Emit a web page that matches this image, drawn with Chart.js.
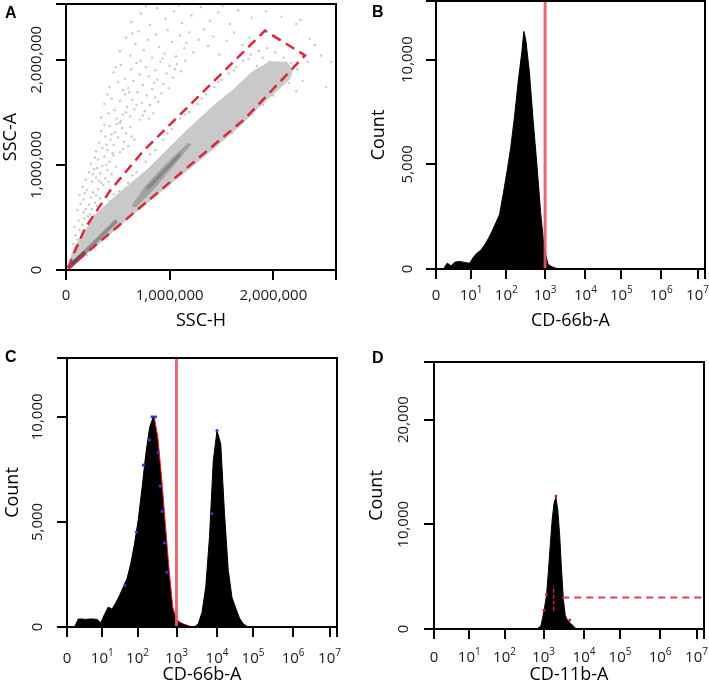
<!DOCTYPE html>
<html>
<head>
<meta charset="utf-8">
<script src="https://cdn.jsdelivr.net/npm/chart.js@4.4.1/dist/chart.umd.min.js"></script>
<style>
  html, body { margin: 0; padding: 0; background: #fff; }
  body { width: 709px; height: 693px; position: relative; overflow: hidden; }
  canvas { position: absolute; }
</style>
</head>
<body>
<canvas id="panelA" width="354" height="336" style="left:0;top:0"></canvas>
<canvas id="panelB" width="355" height="336" style="left:354px;top:0"></canvas>
<canvas id="panelC" width="354" height="357" style="left:0;top:336px"></canvas>
<canvas id="panelD" width="355" height="357" style="left:354px;top:336px"></canvas>
<script>
// ---- A: SSC-H vs SSC-A (values in millions) ----
const sscTicks = [0, 1, 2];
const sscTickLabels = ['0', '1,000,000', '2,000,000'];
const sscXMax = 2.604;
const sscYMax = 2.53;

const gatePolygon = [
  [0.022, 0.016], [0.068, 0.141], [0.183, 0.395], [0.424, 0.753], [0.743, 1.129],
  [1.225, 1.599], [1.514, 1.881], [1.919, 2.277], [2.305, 2.041], [1.726, 1.439],
  [0.022, 0.016]
];

const denseBand = [
  [0.010, 0.019], [0.090, 0.230], [0.299, 0.540], [0.521, 0.740], [0.781, 0.950],
  [1.167, 1.330], [1.456, 1.590], [1.610, 1.710], [1.803, 1.890], [1.967, 1.980],
  [2.131, 1.976], [2.185, 1.900], [2.160, 1.820], [1.871, 1.560], [1.678, 1.370],
  [1.321, 1.070], [0.906, 0.740], [0.588, 0.480], [0.328, 0.260], [0.019, 0.009],
  [0.010, 0.019]
];

const denseCore = [
  [0.636, 0.611], [0.762, 0.790], [0.955, 0.997], [1.176, 1.204], [1.205, 1.195],
  [1.022, 0.978], [0.829, 0.753], [0.675, 0.602], [0.636, 0.611]
];
const coreRidge = [[0.78, 0.77], [1.10, 1.10]];
const lowerStreak = [[0.039, 0.031], [0.489, 0.470]];
const originStreak = [[0.019, 0.019], [0.183, 0.169]];

const sparseEvents = [
  [0.07,0.25],[0.09,0.33],[0.11,0.29],[0.08,0.41],[0.13,0.38],[0.12,0.47],[0.16,0.43],[0.15,0.31],
  [0.18,0.49],[0.10,0.22],[0.14,0.26],[0.19,0.36],[0.21,0.44],[0.17,0.55],
  [0.11,0.57],[0.14,0.63],[0.13,0.71],[0.17,0.67],[0.19,0.58],[0.20,0.76],[0.22,0.62],[0.24,0.69],
  [0.23,0.53],[0.26,0.74],[0.28,0.64],[0.16,0.79],[0.25,0.58],[0.29,0.71],[0.31,0.77],[0.27,0.52],
  [0.33,0.68],[0.21,0.51],[0.18,0.73],[0.30,0.61],
  [0.19,0.86],[0.22,0.93],[0.25,0.84],[0.24,1.01],[0.27,0.96],[0.29,0.88],[0.31,1.05],[0.33,0.92],
  [0.35,0.99],[0.34,0.83],[0.37,1.08],[0.38,0.87],[0.40,0.95],[0.42,1.03],[0.28,1.07],[0.36,0.81],
  [0.44,0.91],[0.46,1.09],[0.32,0.85],[0.39,1.00],[0.26,0.91],[0.41,0.84],[0.30,0.97],[0.48,0.98],
  [0.29,1.13],[0.32,1.21],[0.35,1.16],[0.34,1.32],[0.38,1.27],[0.40,1.14],[0.43,1.24],[0.42,1.37],
  [0.46,1.19],[0.47,1.31],[0.50,1.26],[0.52,1.12],[0.54,1.35],[0.56,1.22],[0.37,1.38],[0.45,1.11],
  [0.58,1.30],[0.60,1.18],[0.49,1.39],[0.63,1.27],[0.39,1.19],[0.55,1.15],[0.62,1.36],[0.66,1.24],
  [0.44,1.29],[0.52,1.40],
  [0.34,1.45],[0.37,1.58],[0.41,1.49],[0.44,1.63],[0.47,1.52],[0.49,1.44],[0.52,1.61],[0.55,1.48],
  [0.57,1.67],[0.59,1.55],[0.62,1.46],[0.64,1.62],[0.66,1.53],[0.69,1.69],[0.71,1.43],[0.73,1.59],
  [0.76,1.51],[0.78,1.66],[0.81,1.57],[0.84,1.49],[0.86,1.64],[0.40,1.67],[0.53,1.42],[0.61,1.69],
  [0.74,1.47],[0.89,1.60],[0.92,1.68],[0.68,1.57],[0.58,1.50],[0.80,1.44],
  [0.42,1.74],[0.46,1.88],[0.50,1.79],[0.53,1.95],[0.57,1.82],[0.60,1.73],[0.63,1.91],[0.65,1.80],
  [0.68,1.97],[0.71,1.86],[0.74,1.76],[0.77,1.93],[0.80,1.84],[0.83,1.72],[0.86,1.90],[0.88,1.81],
  [0.91,1.98],[0.94,1.77],[0.97,1.87],[1.00,1.94],[1.03,1.83],[1.07,1.96],[1.11,1.89],[1.15,1.99],
  [0.55,1.71],[0.72,1.99],[0.85,1.78],[0.99,1.73],[1.05,1.91],[0.48,1.93],
  [0.52,2.08],[0.58,2.21],[0.62,2.04],[0.67,2.15],[0.70,2.27],[0.75,2.09],[0.79,2.19],[0.83,2.02],
  [0.87,2.24],[0.90,2.12],[0.95,2.06],[0.98,2.28],[1.02,2.17],[1.06,2.03],[1.10,2.23],[1.14,2.11],
  [1.19,2.26],[1.23,2.07],[1.28,2.19],[1.33,2.29],[1.37,2.13],[1.42,2.22],[1.48,2.05],[1.55,2.18],
  [1.62,2.26],[1.70,2.14],[1.77,2.21],[0.64,2.25],[0.93,2.01],[1.16,2.16],
  [0.63,2.36],[0.72,2.44],[0.81,2.33],[0.88,2.49],[0.96,2.39],[1.04,2.46],[1.12,2.35],[1.21,2.42],
  [1.30,2.50],[1.39,2.37],[1.47,2.45],[1.58,2.34],[1.66,2.47],[1.79,2.40],[1.93,2.46],[2.08,2.41],
  [2.22,2.34],[0.77,2.51],[1.09,2.52],[1.51,2.51],
  [2.26,2.38],[2.35,2.20],[2.40,2.14],[2.46,2.04],[2.51,1.74],[2.56,1.98],[2.33,1.98],[2.28,1.80],
  [0.33,0.55],[0.42,0.66],[0.51,0.75],[0.60,0.83],[0.68,0.93],[0.77,1.03],[0.86,1.14],[0.94,1.24],
  [1.02,1.34],[1.10,1.44],[1.19,1.50],[1.27,1.58],[1.35,1.67],[1.43,1.74],[1.50,1.81],[1.57,1.87],
  [1.64,1.93],[1.71,1.99],[1.78,2.05],[1.86,2.08],[1.94,2.11],[2.02,2.07],[2.10,2.02],[2.17,1.97],
  [2.23,1.91],[0.46,0.72],[0.64,0.90],[0.81,1.10],[0.98,1.30],[1.15,1.48],[1.31,1.63],[1.47,1.79],
  [1.62,1.90],[1.76,2.01],[1.90,2.02],[2.05,1.96],[2.14,1.92],[1.84,1.94],[1.96,1.98],
  [0.20,0.14],[0.40,0.32],[0.60,0.50],[0.80,0.66],[1.00,0.83],[1.20,0.98],[1.40,1.16],[1.60,1.30],
  [1.80,1.48],[2.00,1.66],[2.15,1.78],[2.22,1.70],[0.50,0.40],[0.70,0.58],[0.90,0.75],[1.10,0.92],
  [1.30,1.08],[1.50,1.24],[1.70,1.40],[1.90,1.57]
];

// ---- log-like axes shared by B, C, D (axis units, one per decade) ----
const logTickPos = [0, 0.94, 1.88, 2.92, 4.0, 4.96, 6.03, 7.0];
const logTickExp = ['', '1', '2', '3', '4', '5', '6', '7'];
const logAxisMax = 7.2;

// ---- B: CD-66b-A ----
const bBins = [0.2,0.3,0.4,0.5,0.6,0.7,0.8,0.9,1.0,1.1,1.2,1.3,1.4,1.5,1.6,1.7,1.8,1.9,2.0,2.1,2.2,2.3,2.35,2.4,2.5,2.6,2.7,2.8,2.9,3.0,3.1,3.2,3.3];
const bCounts = [0,280,150,320,360,340,300,280,560,760,900,1150,1450,1800,2200,2600,3600,4650,5800,7250,8950,10400,11350,11000,9400,7100,5000,2700,950,220,110,40,0];
const bGate = 2.92;

// ---- C: CD-66b-A, two populations ----
const cBins = [0.2,0.3,0.4,0.5,0.6,0.7,0.8,0.9,1.0,1.1,1.2,1.3,1.4,1.5,1.6,1.7,1.8,1.9,2.0,2.1,2.2,2.3,2.4,2.5,2.6,2.7,2.8,2.9,3.0,3.1,3.2,3.3,3.4,3.5,3.6,3.7,3.8,3.9,4.0,4.1,4.2,4.3,4.4,4.5,4.6,4.7,4.8,4.9];
const cCounts = [0,380,380,360,380,380,360,200,600,950,850,1150,1500,1900,2300,3000,3950,5100,6600,8200,9450,10000,8900,7000,4800,2600,850,320,200,120,60,0,0,150,700,1900,4300,7900,9350,8700,5400,2700,1400,900,420,150,30,0];
const cRedBins = [1.42,1.52,1.62,1.72,1.82,1.92,2.02,2.12,2.22,2.32,2.42,2.52,2.62,2.72,2.82,2.92,3.02,3.12,3.22,3.32];
const cRedCounts = [1500,1950,2350,3050,4000,5200,6700,8350,9600,10050,9050,7150,4950,2750,950,360,220,130,70,0];
const cBlueX = [1.54,1.85,2.04,2.20,2.27,2.36,2.43,2.49,2.54,2.60,2.66,3.86,4.0];
const cBlueY = [1985,4520,7700,8900,10000,10000,8300,6700,5500,4000,2600,5400,9350];
const cGate = 2.92;

// ---- D: CD-11b-A ----
const dBins = [2.75,2.80,2.85,2.90,2.95,3.00,3.05,3.10,3.15,3.20,3.25,3.30,3.35,3.40,3.45,3.50,3.55,3.60,3.65,3.70,3.75,3.80];
const dCounts = [0,150,300,1100,2100,3200,5500,8000,10400,12000,12600,11400,9000,5700,2800,1300,900,700,500,350,150,0];
const dRedX = [2.93,3.0,3.25,3.62];
const dRedY = [1800,3300,12700,850];
const dGateLevel = 3000;
const dGateFrom = 3.42;
const dMarkerX = 3.19;
const dMarkerRange = [1750, 4100];

// ---------- drawing ----------
const pts = (xs, ys) => xs.map((x, i) => ({ x, y: ys[i] }));
const pairs = (arr, k) => arr.map(([x, y]) => ({ x: x * k, y: y * k }));

function axis(min, max, ticks, size, vertical) {
  return {
    type: 'linear', min, max,
    afterBuildTicks: s => { s.ticks = ticks.map(v => ({ value: v })); },
    afterFit: s => { if (vertical) s.width = size; else s.height = size; },
    ticks: { display: false },
    grid: { drawOnChartArea: false, drawTicks: true, tickLength: 10, color: '#000', lineWidth: 2 },
    border: { display: true, color: '#000', width: 2 }
  };
}

const framePlugin = {
  id: 'frame',
  afterDraw(chart) {
    const o = chart.options.plugins.frame;
    const { ctx, chartArea: a, scales } = chart;
    ctx.save();
    ctx.strokeStyle = '#000';
    ctx.lineWidth = 2;
    ctx.strokeRect(a.left, a.top, a.right - a.left, a.bottom - a.top);
    ctx.fillStyle = '#1a1a1a';
    ctx.textBaseline = 'middle';
    o.xTicks.forEach((v, i) => {
      const x = scales.x.getPixelForValue(v);
      const y = a.bottom + o.xTickOff;
      const lab = o.xLabels[i];
      ctx.font = '15px "Open Sans"';
      if (Array.isArray(lab)) {
        const w1 = ctx.measureText(lab[0]).width;
        ctx.font = '10px "Open Sans"';
        const w2 = ctx.measureText(lab[1]).width;
        const x0 = x - (w1 + w2) / 2;
        ctx.textAlign = 'left';
        ctx.font = '15px "Open Sans"';
        ctx.fillText(lab[0], x0, y);
        ctx.font = '10px "Open Sans"';
        ctx.fillText(lab[1], x0 + w1, y - 6);
      } else {
        ctx.textAlign = 'center';
        ctx.fillText(lab, x, y);
      }
    });
    ctx.font = '15px "Open Sans"';
    ctx.textAlign = 'center';
    o.yTicks.forEach((v, i) => {
      const y = scales.y.getPixelForValue(v);
      ctx.save();
      ctx.translate(a.left - o.yTickOff, y);
      ctx.rotate(-Math.PI / 2);
      ctx.fillText(o.yLabels[i], 0, 0);
      ctx.restore();
    });
    ctx.fillStyle = '#000';
    ctx.font = '18px "Open Sans"';
    ctx.fillText(o.xTitle, (a.left + a.right) / 2, a.bottom + o.xTitleOff);
    ctx.save();
    ctx.translate(a.left - o.yTitleOff, (a.top + a.bottom) / 2);
    ctx.rotate(-Math.PI / 2);
    ctx.fillText(o.yTitle, 0, 0);
    ctx.restore();
    ctx.font = 'bold 16px "Liberation Sans"';
    ctx.textAlign = 'left';
    ctx.textBaseline = 'alphabetic';
    ctx.fillText(o.letter, o.letterPos[0], o.letterPos[1]);
    ctx.restore();
  }
};

function makeChart(id, datasets, x, y, padding, frame) {
  return new Chart(document.getElementById(id), {
    type: 'line',
    data: { datasets },
    options: {
      responsive: false,
      animation: false,
      layout: { padding },
      scales: { x, y },
      plugins: { legend: { display: false }, tooltip: { enabled: false }, frame }
    },
    plugins: [framePlugin]
  });
}

const histLabels = logTickExp.map(e => e === '' ? '0' : ['10', e]);
const histTicks = logTickPos.concat([logAxisMax]);

function hist(xs, ys, color, order, stepped) {
  return {
    data: pts(xs, ys), stepped: stepped || false, fill: 'origin',
    backgroundColor: color, borderColor: color, borderWidth: 1, pointRadius: 0, order
  };
}
function vline(x, y0, y1, color, width, dash, order) {
  return {
    data: [{ x, y: y0 }, { x, y: y1 }], borderColor: color, borderWidth: width,
    borderDash: dash, pointRadius: 0, fill: false, order
  };
}

// panel A
const M = 1e6;
makeChart('panelA', [
  { data: pairs(gatePolygon, M), borderColor: '#d8283a', borderWidth: 2.5, borderDash: [10, 6], pointRadius: 0, fill: false, order: 0 },
  { data: pairs(originStreak, M), borderColor: '#555', borderWidth: 4, pointRadius: 0, fill: false, order: 1 },
  { data: pairs(lowerStreak, M), borderColor: '#8e8e8e', borderWidth: 4, pointRadius: 0, fill: false, order: 2 },
  { data: pairs(coreRidge, M), borderColor: '#868686', borderWidth: 3, pointRadius: 0, fill: false, order: 3 },
  { data: pairs(denseCore, M), borderColor: '#a2a2a2', backgroundColor: '#a2a2a2', borderWidth: 1, pointRadius: 0, fill: 'shape', order: 4 },
  { data: pairs(denseBand, M), borderColor: '#c9c9c9', backgroundColor: '#c9c9c9', borderWidth: 1, pointRadius: 0, fill: 'shape', order: 5 },
  { data: pairs(sparseEvents, M), showLine: false, pointRadius: 1.2, pointBorderWidth: 0, pointBackgroundColor: '#c8c8c8', order: 6 }
],
  axis(0, sscXMax * M, sscTicks.map(v => v * M).concat([sscXMax * M]), 66, false),
  axis(0, sscYMax * M, sscTicks.map(v => v * M).concat([sscYMax * M]), 66, true),
  { left: 0, top: 1, right: 18, bottom: 0 },
  { xTicks: sscTicks.map(v => v * M), xLabels: sscTickLabels, yTicks: sscTicks.map(v => v * M), yLabels: sscTickLabels,
    xTitle: 'SSC-H', yTitle: 'SSC-A', xTickOff: 26, xTitleOff: 51, yTickOff: 29, yTitleOff: 55, letter: 'A', letterPos: [5, 18] });

// panel B
makeChart('panelB', [
  vline(bGate, 0, 12800, 'rgba(228,90,105,0.9)', 3, [], 0),
  hist(bBins, bCounts, '#000', 1)
],
  axis(0, logAxisMax, histTicks, 67, false),
  axis(0, 12800, [0, 5000, 10000, 12800], 82, true),
  { left: 0, top: 1, right: 4, bottom: 0 },
  { xTicks: logTickPos, xLabels: histLabels, yTicks: [0, 5000, 10000], yLabels: ['0', '5,000', '10,000'],
    xTitle: 'CD-66b-A', yTitle: 'Count', xTickOff: 27, xTitleOff: 52, yTickOff: 28, yTitleOff: 57, letter: 'B', letterPos: [18, 17] });

// panel C
makeChart('panelC', [
  vline(cGate, 0, 12800, 'rgba(228,90,105,0.9)', 3, [], 0),
  { data: pts(cBlueX, cBlueY), showLine: false, pointRadius: 1.6, pointBorderWidth: 0, pointBackgroundColor: '#2b3de0', order: 1 },
  hist(cBins, cCounts, '#000', 2),
  hist(cRedBins, cRedCounts, '#e8141e', 3)
],
  axis(0, logAxisMax, histTicks, 66, false),
  axis(0, 12800, [0, 5000, 10000, 12800], 67, true),
  { left: 0, top: 22, right: 17, bottom: 0 },
  { xTicks: logTickPos, xLabels: histLabels, yTicks: [0, 5000, 10000], yLabels: ['0', '5,000', '10,000'],
    xTitle: 'CD-66b-A', yTitle: 'Count', xTickOff: 32, xTitleOff: 48, yTickOff: 29, yTitleOff: 54, letter: 'C', letterPos: [5, 26] });

// panel D
makeChart('panelD', [
  { data: [{ x: dGateFrom, y: dGateLevel }, { x: logAxisMax, y: dGateLevel }], borderColor: '#e0404e', borderWidth: 2, borderDash: [7, 5], pointRadius: 0, fill: false, order: 0 },
  vline(dMarkerX, dMarkerRange[0], dMarkerRange[1], '#e0202e', 1.5, [4, 2], 0),
  { data: pts(dRedX, dRedY), showLine: false, pointRadius: 1.5, pointBorderWidth: 0, pointBackgroundColor: '#e0202e', order: 1 },
  hist(dBins, dCounts, '#000', 2)
],
  axis(0, logAxisMax, histTicks, 64, false),
  axis(0, 25500, [0, 10000, 20000, 25500], 80, true),
  { left: 0, top: 26, right: 5, bottom: 0 },
  { xTicks: logTickPos, xLabels: histLabels, yTicks: [0, 10000, 20000], yLabels: ['0', '10,000', '20,000'],
    xTitle: 'CD-11b-A', yTitle: 'Count', xTickOff: 29, xTitleOff: 46, yTickOff: 30, yTitleOff: 57, letter: 'D', letterPos: [18, 27] });
</script>
</body>
</html>
